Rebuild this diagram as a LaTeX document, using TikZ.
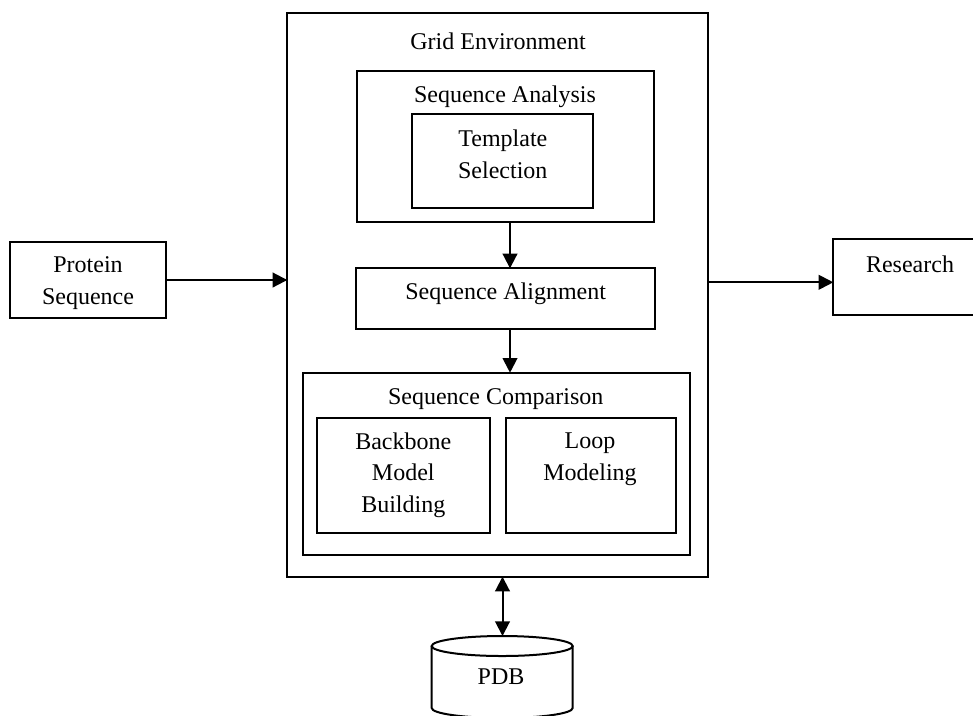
\documentclass[tikz,border=0pt]{standalone}
\usepackage{fontspec}
\setmainfont{Liberation Serif}
\usetikzlibrary{arrows.meta,fit}

\begin{document}
\begin{tikzpicture}[x=0.75pt,y=-0.75pt,
  box/.style={draw, line width=1.5pt, inner sep=0pt, outer sep=0pt},
  txt/.style={align=center, inner sep=0pt, font=\fontsize{18pt}{23.8pt}\selectfont},
  arr/.style={line width=1.5pt, -{Triangle[length=11pt,width=11pt]}},
  dblarr/.style={line width=1.5pt, {Triangle[length=11pt,width=11pt]}-{Triangle[length=11pt,width=11pt]}}]

  \useasboundingbox (0,0) rectangle (973,715);
  \clip (0,0) rectangle (973,715);

  % input and output boxes
  \node[box, fit={(10,241.7) (166,318.3)}] (protein) {};
  \node[txt] (proteintxt) at (88,283) {Protein\\Sequence};

  \node[box, fit={(833.3,239) (987,315)}] (research) {};
  \node[txt] (researchtxt) at (910,264) {Research};

  % grid environment frame
  \node[box, fit={(287.3,13.3) (708.3,576.7)}] (grid) {};
  \node[txt] (gridtxt) at (498,41.7) {Grid Environment};

  % sequence analysis
  \node[box, fit={(356.7,70.7) (654,221.7)}] (analysis) {};
  \node[txt] (analysistxt) at (505,96.7) {Sequence Analysis};
  \node[box, fit={(412.3,114) (593.3,208.3)}] (template) {};
  \node[txt] (templatetxt) at (502.8,154) {Template\\Selection};

  % sequence alignment
  \node[box, fit={(356,268.3) (655,329)}] (alignment) {};
  \node[txt] (alignmenttxt) at (505.7,294) {Sequence Alignment};

  % sequence comparison
  \node[box, fit={(302.7,372.7) (690,555)}] (comparison) {};
  \node[txt] (comparisontxt) at (495.7,399.3) {Sequence Comparison};
  \node[box, fit={(316.7,418.3) (490,533.3)}] (backbone) {};
  \node[txt] (backbonetxt) at (403.3,475) {Backbone\\Model\\Building};
  \node[box, fit={(506,418.3) (675.7,533.3)}] (loop) {};
  \node[txt] (looptxt) at (590,459) {Loop\\Modeling};

  % PDB database cylinder
  \coordinate (pdbtop) at (502.5,636);
  \draw[line width=1.5pt] (502.2,646) ellipse [x radius=52.875pt, y radius=7.5pt];
  \draw[line width=1.5pt] (431.7,646) -- (431.7,708)
        arc[start angle=180, end angle=360, x radius=52.875pt, y radius=7.5pt]
        -- (572.7,646);
  \node[txt] (pdbtxt) at (501,676.7) {PDB};

  % connectors
  \coordinate (flow) at (510,300);
  \coordinate (outrow) at (800,282.3);
  \draw[arr] (protein.east) -- (protein.east -| grid.west);
  \draw[arr] (grid.east |- outrow) -- (research.west |- outrow);
  \draw[arr] (analysis.south -| flow) -- (alignment.north -| flow);
  \draw[arr] (alignment.south -| flow) -- (comparison.north -| flow);
  \draw[dblarr] (pdbtop |- grid.south) -- (pdbtop);
\end{tikzpicture}
\end{document}
